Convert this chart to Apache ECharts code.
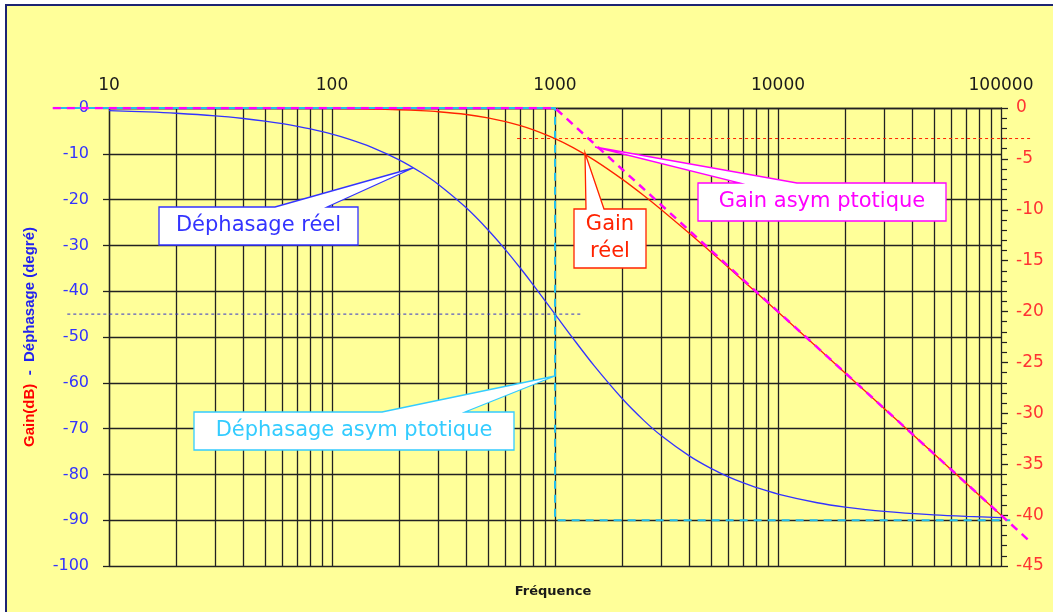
<!DOCTYPE html>
<html>
<head>
<meta charset="utf-8">
<script src="https://cdn.jsdelivr.net/npm/echarts@6/dist/echarts.min.js"></script>
<style>
html,body{margin:0;padding:0;background:#ffffff;width:1053px;height:612px;overflow:hidden;}
#bg{position:absolute;left:5px;top:4px;right:0;bottom:0;background:#ffff99;border-top:2px solid #1c2472;border-left:2px solid #1c2472;}
#c{position:absolute;left:0;top:0;width:1053px;height:612px;}
</style>
</head>
<body>
<div id="bg"></div>
<div id="c"></div>
<script>
// Frequencies (Hz) and values
const freq = [10,15,20,30,40,50,60,70,80,100,120,150,200,250,300,400,500,600,700,800,1000,1200,1500,2000,2500,3000,4000,5000,6000,7000,8000,10000,15000,20000,30000,50000,70000,100000];
const phaseReel = [-0.57,-0.86,-1.15,-1.72,-2.29,-2.86,-3.43,-4.0,-4.57,-5.71,-6.84,-8.53,-11.31,-14.04,-16.7,-21.8,-26.57,-30.96,-34.99,-38.66,-45.0,-50.19,-56.31,-63.43,-68.2,-71.57,-75.96,-78.69,-80.54,-81.87,-82.87,-84.29,-86.19,-87.14,-88.09,-88.85,-89.18,-89.43];
const gainReel = [0,-0.001,-0.002,-0.004,-0.007,-0.01,-0.016,-0.021,-0.028,-0.04,-0.062,-0.1,-0.17,-0.26,-0.37,-0.64,-0.97,-1.34,-1.73,-2.15,-3.01,-3.87,-5.12,-6.99,-8.6,-10.0,-12.3,-14.15,-15.68,-17.0,-18.13,-20.04,-23.53,-26.03,-29.54,-33.98,-36.9,-40.0];

const phaseAsymFreq = [5.6, 1000, 1000, 110000];
const phaseAsymVal  = [0, 0, -90, -90];
const gainAsymFreq  = [5.6, 1000, 135000];
const gainAsymVal   = [0, 0, -42.6];

const phaseRefFreq = [6.5, 1336];
const phaseRefVal  = [-45, -45];
const gainRefFreq  = [676, 138000];
const gainRefVal   = [-3, -3];

const xTickLabels = ['10','100','1000','10000','100000'];
const gridFreq = [10,20,30,40,50,60,70,80,90,100,200,300,400,500,600,700,800,900,1000,2000,3000,4000,5000,6000,7000,8000,9000,10000,20000,30000,40000,50000,60000,70000,80000,90000];

const zip = (a, b) => a.map((v, i) => [v, b[i]]);

// layout
const W = 1053, GL = 109, GR = 52, GT = 108, GB = 46;
const decadePx = (W - GL - GR) / 4;
// overlay grid spans the full width with the same log scale
const xMin2 = Math.pow(10, 1 - GL / decadePx);
const xMax2 = Math.pow(10, 5 + GR / decadePx);

const chart = echarts.init(document.getElementById('c'));

function callout(box, base, tip, color, text, lh) {
  const [x1, y1, x2, y2] = box;
  return [
    {
      type: 'polygon', z: 100, silent: true,
      shape: { points: [[x1,y1],[base[0],y1],tip,[base[1],y1],[x2,y1],[x2,y2],[x1,y2]] },
      style: { fill: '#ffffff', stroke: color, lineWidth: 1.3 }
    },
    {
      type: 'text', z: 101, silent: true,
      x: (x1 + x2) / 2, y: (y1 + y2) / 2,
      style: { text: text, fill: color, font: '21px "DejaVu Sans"', align: 'center', verticalAlign: 'middle', lineHeight: lh || 24 }
    }
  ];
}

const hiddenY = (min, max) => ({ type: 'value', gridIndex: 1, min: min, max: max, show: false, splitLine: { show: false } });

const option = {
  backgroundColor: 'transparent',
  animation: false,
  grid: [
    { left: GL, right: GR, top: GT, bottom: GB },
    { left: 0, right: 0, top: GT, bottom: GB }
  ],
  xAxis: [
    {
      type: 'log', logBase: 10, min: 10, max: 100000, position: 'top', gridIndex: 0,
      axisLine: { show: true, lineStyle: { color: '#222', width: 1.3 } },
      axisTick: { show: false },
      splitLine: { show: false },
      axisLabel: {
        color: '#1a1a1a', fontSize: 17, fontFamily: 'DejaVu Sans', margin: 14,
        formatter: v => { const i = Math.round(Math.log10(v)) - 1; return xTickLabels[i] !== undefined ? xTickLabels[i] : ''; }
      }
    },
    { type: 'log', logBase: 10, min: xMin2, max: xMax2, gridIndex: 1, show: false, splitLine: { show: false } }
  ],
  yAxis: [
    {
      type: 'value', min: -100, max: 0, interval: 10, position: 'left', gridIndex: 0,
      axisLine: { show: true, lineStyle: { color: '#222', width: 1.3 } },
      axisTick: { show: true, length: 6, lineStyle: { color: '#222', width: 1.3 } },
      splitLine: { show: true, lineStyle: { color: '#222', width: 1.3 } },
      axisLabel: { color: '#3333ff', fontSize: 16, fontFamily: 'DejaVu Sans', margin: 20 }
    },
    {
      type: 'value', min: -45, max: 0, interval: 5, position: 'right', gridIndex: 0,
      axisLine: { show: true, lineStyle: { color: '#222', width: 1.3 } },
      axisTick: { show: true, length: 7, lineStyle: { color: '#222', width: 1.3 } },
      minorTick: { show: true, splitNumber: 5, length: 6, lineStyle: { color: '#222', width: 1.2 } },
      splitLine: { show: false },
      axisLabel: { color: '#ff3333', fontSize: 17, fontFamily: 'DejaVu Sans', margin: 15 }
    },
    hiddenY(-100, 0),
    hiddenY(-45, 0)
  ],
  series: [
    {
      name: 'grid', type: 'line', xAxisIndex: 0, yAxisIndex: 0, z: 1, data: [[10, 0]],
      showSymbol: false, lineStyle: { opacity: 0 }, silent: true,
      markLine: {
        z: 1, silent: true, symbol: ['none', 'none'], animation: false,
        label: { show: false },
        lineStyle: { color: '#222', width: 1.3, type: 'solid' },
        data: gridFreq.map(f => ({ xAxis: f }))
      }
    },
    {
      name: 'Gain réel', type: 'line', xAxisIndex: 0, yAxisIndex: 1, z: 3,
      data: zip(freq, gainReel), showSymbol: false, smooth: 0.3,
      lineStyle: { color: '#ff2200', width: 1.3 }
    },
    {
      name: 'Déphasage réel', type: 'line', xAxisIndex: 0, yAxisIndex: 0, z: 3,
      data: zip(freq, phaseReel), showSymbol: false, smooth: 0.3,
      lineStyle: { color: '#3333ff', width: 1.3 }
    },
    {
      name: 'Déphasage asymptotique', type: 'line', xAxisIndex: 1, yAxisIndex: 2, z: 4,
      data: zip(phaseAsymFreq, phaseAsymVal), showSymbol: false,
      lineStyle: { color: '#22bfee', width: 2, type: [8, 6], dashOffset: 7 }
    },
    {
      name: 'Gain asymptotique', type: 'line', xAxisIndex: 1, yAxisIndex: 3, z: 4,
      data: zip(gainAsymFreq, gainAsymVal), showSymbol: false,
      lineStyle: { color: '#ff00ff', width: 2.5, type: [8, 6] }
    },
    {
      name: 'ref -45', type: 'line', xAxisIndex: 1, yAxisIndex: 2, z: 4,
      data: zip(phaseRefFreq, phaseRefVal), showSymbol: false,
      lineStyle: { color: '#3333cc', width: 1, type: [3, 3] }
    },
    {
      name: 'ref -3', type: 'line', xAxisIndex: 1, yAxisIndex: 3, z: 4,
      data: zip(gainRefFreq, gainRefVal), showSymbol: false,
      lineStyle: { color: '#ff2200', width: 1, type: [3, 3] }
    }
  ],
  graphic: [
    ...callout([159, 207, 358, 245], [275, 327], [413, 168], '#3333ff', 'Déphasage réel'),
    ...callout([194, 412, 514, 450], [382, 465], [555, 376], '#33ccff', 'Déphasage asym ptotique'),
    ...callout([574, 209, 646, 268], [586, 604], [585, 153], '#ff2200', 'Gain\nréel', 27),
    ...callout([698, 183, 946, 221], [740, 797], [595, 147], '#ff00ff', 'Gain asym ptotique'),
    {
      type: 'text', z: 100, silent: true, x: 30, y: 337, rotation: Math.PI / 2,
      style: {
        text: '{r|Gain(dB)}{b|  -  Déphasage (degré)}',
        align: 'center', verticalAlign: 'middle',
        rich: {
          r: { fill: '#ff0000', font: 'bold 15px "Liberation Sans"' },
          b: { fill: '#2222ee', font: 'bold 15px "Liberation Sans"' }
        }
      }
    },
    {
      type: 'text', z: 100, silent: true, x: 553, y: 592,
      style: { text: 'Fréquence', fill: '#1a1a1a', font: 'bold 13px "DejaVu Sans"', align: 'center', verticalAlign: 'middle' }
    }
  ]
};
chart.setOption(option);
</script>
</body>
</html>
